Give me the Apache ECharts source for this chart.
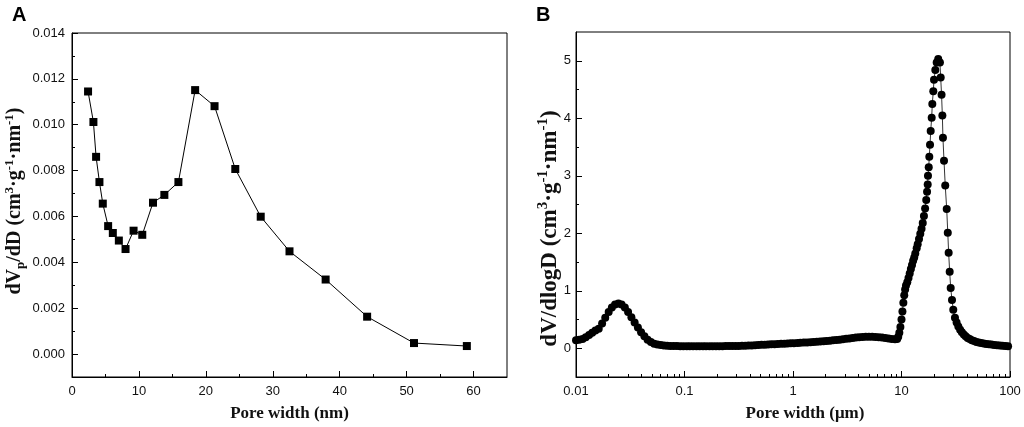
<!DOCTYPE html>
<html>
<head>
<meta charset="utf-8">
<title>Pore size distribution</title>
<style>
    html,body{margin:0;padding:0;background:#fff;}
    #main{width:1024px;height:427px;}
</style>
</head>
<body>
<div id="main"></div>
<script src="https://cdn.jsdelivr.net/npm/echarts@6/dist/echarts.min.js"></script>
<script>
    // A: nitrogen adsorption, pore width (nm) vs dVp/dD
    var poreA = [2.4, 3.2, 3.6, 4.1, 4.6, 5.4, 6.1, 7.0, 8.0, 9.2, 10.5, 12.1, 13.8, 15.9, 18.4, 21.3, 24.4, 28.2, 32.5, 37.9, 44.1, 51.1, 59.0];
    var dvA = [0.01145, 0.01012, 0.0086, 0.0075, 0.00656, 0.00558, 0.00528, 0.00495, 0.00458, 0.00538, 0.0052, 0.0066, 0.00694, 0.0075, 0.01151, 0.01081, 0.00807, 0.00599, 0.00448, 0.00325, 0.00163, 0.00048, 0.00035];

    // B: mercury intrusion, pore width (um) vs dV/dlogD
    var poreB = [0.0100, 0.0107, 0.0115, 0.0123, 0.0132, 0.0141, 0.0151, 0.0162, 0.0174, 0.0186,
        0.0200, 0.0214, 0.0229, 0.0246, 0.0263, 0.0282, 0.0302, 0.0324, 0.0347, 0.0372,
        0.0398, 0.0427, 0.0457, 0.0490, 0.0525, 0.0562, 0.0603, 0.0646, 0.0692, 0.0741,
        0.0794, 0.0851, 0.0912, 0.0977, 0.105, 0.112, 0.120, 0.129, 0.138, 0.148,
        0.158, 0.170, 0.182, 0.195, 0.209, 0.224, 0.240, 0.257, 0.275, 0.295,
        0.316, 0.339, 0.363, 0.389, 0.417, 0.447, 0.479, 0.513, 0.550, 0.589,
        0.631, 0.676, 0.724, 0.776, 0.832, 0.891, 0.955, 1.02, 1.10, 1.17,
        1.26, 1.35, 1.45, 1.55, 1.66, 1.78, 1.91, 2.04, 2.19, 2.34,
        2.51, 2.69, 2.88, 3.09, 3.31, 3.55, 3.80, 4.07, 4.37, 4.68,
        5.01, 5.37, 5.75, 6.17, 6.61, 7.08, 7.59, 8.13, 8.71, 9.12,
        9.33, 9.55, 9.77, 10.0, 10.2, 10.4, 10.6, 10.8, 11.0, 11.3,
        11.6, 11.9, 12.2, 12.5, 12.8, 13.1, 13.4, 13.8, 14.1, 14.5,
        14.9, 15.3, 15.7, 16.1, 16.5, 16.9, 17.2,
        17.44, 17.54, 17.82, 18.04, 18.32, 18.58, 18.98, 19.23, 19.64, 19.94, 20.5, 21.1, 21.8,
        22.6, 22.97, 23.4, 23.8, 24.1, 24.65, 25.3, 26.1, 26.7, 27.2, 27.8, 28.4, 29.2, 30.0, 31.1,
        32.2, 33.4, 34.7, 36.0, 37.5, 39.0, 40.7, 42.5, 44.5, 46.7,
        49.0, 51.5, 54.2, 57.2, 60.4, 63.8, 67.5, 71.5, 75.8, 80.4, 85.3, 90.5, 96.0];
    var dvB = [0.14, 0.15, 0.16, 0.19, 0.23, 0.27, 0.31, 0.34, 0.43, 0.53,
        0.63, 0.71, 0.76, 0.78, 0.76, 0.71, 0.63, 0.54, 0.45, 0.36,
        0.28, 0.21, 0.15, 0.11, 0.08, 0.065, 0.055, 0.048, 0.043, 0.040,
        0.038, 0.037, 0.036, 0.035, 0.035, 0.035, 0.034, 0.034, 0.034, 0.034,
        0.034, 0.035, 0.035, 0.035, 0.036, 0.036, 0.037, 0.038, 0.039, 0.040,
        0.041, 0.043, 0.045, 0.047, 0.050, 0.053, 0.056, 0.059, 0.062, 0.065,
        0.068, 0.071, 0.074, 0.077, 0.080, 0.083, 0.086, 0.089, 0.092, 0.095,
        0.098, 0.101, 0.105, 0.109, 0.113, 0.117, 0.122, 0.127, 0.132, 0.138,
        0.144, 0.150, 0.157, 0.164, 0.171, 0.178, 0.185, 0.191, 0.196, 0.199,
        0.200, 0.199, 0.196, 0.192, 0.186, 0.179, 0.171, 0.163, 0.155, 0.16,
        0.20, 0.27, 0.37, 0.50, 0.64, 0.79, 0.92, 1.02, 1.09, 1.15,
        1.22, 1.30, 1.38, 1.45, 1.52, 1.58, 1.65, 1.74, 1.81, 1.90,
        1.99, 2.08, 2.18, 2.30, 2.43, 2.58, 2.72,
        2.85, 3.00, 3.15, 3.33, 3.54, 3.78, 4.01, 4.25, 4.47, 4.67, 4.84, 4.97, 5.03,
        4.97, 4.71, 4.41, 4.05, 3.66, 3.26, 2.83, 2.42, 2.01, 1.66, 1.33, 1.05, 0.84, 0.67, 0.53,
        0.45, 0.38, 0.32, 0.28, 0.24, 0.21, 0.18, 0.16, 0.14, 0.125,
        0.11, 0.10, 0.09, 0.082, 0.076, 0.070, 0.064, 0.058, 0.053, 0.048, 0.044, 0.040, 0.036];

    // tick positions
    var xTicksA = [0, 10, 20, 30, 40, 50, 60];
    var xMinorA = [5, 15, 25, 35, 45, 55];
    var yTicksA = [0, 0.002, 0.004, 0.006, 0.008, 0.010, 0.012, 0.014];
    var yMinorA = [0.001, 0.003, 0.005, 0.007, 0.009, 0.011, 0.013];
    var xTicksB = [0.01, 0.1, 1, 10, 100];
    var xMinorB = [0.02, 0.03, 0.04, 0.05, 0.06, 0.07, 0.08, 0.09,
        0.2, 0.3, 0.4, 0.5, 0.6, 0.7, 0.8, 0.9,
        2, 3, 4, 5, 6, 7, 8, 9,
        20, 30, 40, 50, 60, 70, 80, 90];
    var yTicksB = [0, 1, 2, 3, 4, 5];
    var yMinorB = [0.5, 1.5, 2.5, 3.5, 4.5];

    var sans = 'Liberation Sans';
    var serif = 'Liberation Serif';
    var tickLbl = {color: '#111', fontSize: 13, fontFamily: sans};

    function pairs(xs, ys) {
        var out = [];
        for (var i = 0; i < xs.length; i++) out.push([xs[i], ys[i]]);
        return out;
    }

    // 主刻度轴 + 次刻度轴（同一个grid，次轴只画短刻度）
    function mainAxis(grid, pos, type, min, max, ticks, extra) {
        var ax = {
            gridIndex: grid, position: pos, type: type, min: min, max: max,
            splitLine: {show: false},
            axisLine: {show: true, onZero: false, lineStyle: {color: '#000', width: 1}},
            axisTick: {show: true, inside: true, length: 6, customValues: ticks, lineStyle: {color: '#000'}},
            axisLabel: Object.assign({customValues: ticks}, tickLbl)
        };
        return Object.assign(ax, extra || {});
    }
    function minorAxis(grid, pos, type, min, max, ticks) {
        return {
            gridIndex: grid, position: pos, type: type, min: min, max: max,
            splitLine: {show: false},
            axisLine: {show: false, onZero: false},
            axisLabel: {show: false},
            axisTick: {show: true, inside: true, length: 3, customValues: ticks, lineStyle: {color: '#000'}}
        };
    }

    var chart = echarts.init(document.getElementById('main'));
    var option = {
        animation: false,
        backgroundColor: '#fff',
        title: [
            {text: 'A', left: 7, top: 0, textStyle: {fontSize: 20, fontWeight: 'bold', fontFamily: sans, color: '#000'}},
            {text: 'B', left: 531, top: 0, textStyle: {fontSize: 20, fontWeight: 'bold', fontFamily: sans, color: '#000'}}
        ],
        grid: [
            {left: 72, right: 517, top: 33, bottom: 48, show: true, borderColor: '#000', borderWidth: 1, containLabel: false},
            {left: 576, right: 14, top: 32, bottom: 49, show: true, borderColor: '#000', borderWidth: 1, containLabel: false}
        ],
        xAxis: [
            mainAxis(0, 'bottom', 'value', 0, 65, xTicksA, {
                name: 'Pore width (nm)', nameLocation: 'middle', nameGap: 28,
                nameTextStyle: {fontSize: 17, fontWeight: 'bold', fontFamily: serif, color: '#111'}
            }),
            minorAxis(0, 'bottom', 'value', 0, 65, xMinorA),
            mainAxis(1, 'bottom', 'log', 0.01, 100, xTicksB, {
                logBase: 10,
                name: 'Pore width (μm)', nameLocation: 'middle', nameGap: 28,
                nameTextStyle: {fontSize: 17, fontWeight: 'bold', fontFamily: serif, color: '#111', padding: [0, 0, 0, 24]}
            }),
            minorAxis(1, 'bottom', 'log', 0.01, 100, xMinorB)
        ],
        yAxis: [
            mainAxis(0, 'left', 'value', -0.001, 0.014, yTicksA, {
                axisLabel: Object.assign({customValues: yTicksA, margin: 7, formatter: function (v) { return v.toFixed(3); }}, tickLbl),
                name: '{b|dV}{sub|p}{b|/dD (cm}{sup|3}{b|·g}{sup|-1}{b|·nm}{sup|-1}{b|)}',
                nameLocation: 'middle', nameGap: 45, nameRotate: 90, nameMoveOverlap: false,
                nameTextStyle: {
                    padding: [0, 0, 0, 8],
                    rich: {
                        b: {fontSize: 20, fontWeight: 'bold', fontFamily: serif, color: '#111', lineHeight: 24},
                        sup: {fontSize: 13, fontWeight: 'bold', fontFamily: serif, color: '#111', verticalAlign: 'top'},
                        sub: {fontSize: 13, fontWeight: 'bold', fontFamily: serif, color: '#111', verticalAlign: 'bottom'}
                    }
                }
            }),
            minorAxis(0, 'left', 'value', -0.001, 0.014, yMinorA),
            mainAxis(1, 'left', 'value', -0.5, 5.5, yTicksB, {
                axisLabel: Object.assign({customValues: yTicksB, margin: 5}, tickLbl),
                name: '{b|dV/dlogD (cm}{sup|3}{b|·g}{sup|-1}{b|·nm}{sup|-1}{b|)}',
                nameLocation: 'middle', nameGap: 12, nameRotate: 90, nameMoveOverlap: false,
                nameTextStyle: {
                    padding: [0, 48, 0, 0],
                    rich: {
                        b: {fontSize: 23, fontWeight: 'bold', fontFamily: serif, color: '#111', lineHeight: 28},
                        sup: {fontSize: 15, fontWeight: 'bold', fontFamily: serif, color: '#111', verticalAlign: 'top'}
                    }
                }
            }),
            minorAxis(1, 'left', 'value', -0.5, 5.5, yMinorB)
        ],
        series: [
            {
                type: 'line', xAxisIndex: 0, yAxisIndex: 0,
                data: pairs(poreA, dvA),
                symbol: 'rect', symbolSize: 8, showAllSymbol: true,
                itemStyle: {color: '#000'},
                lineStyle: {color: '#000', width: 1}
            },
            {
                type: 'line', xAxisIndex: 2, yAxisIndex: 2,
                data: pairs(poreB, dvB),
                symbol: 'circle', symbolSize: 8, showAllSymbol: true,
                itemStyle: {color: '#000'},
                lineStyle: {color: '#000', width: 0.8}
            }
        ]
    };
    chart.setOption(option);
</script>
</body>
</html>
